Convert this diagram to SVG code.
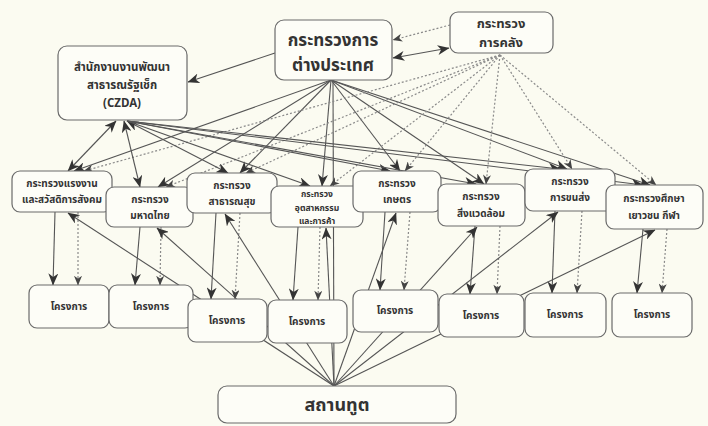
<svg xmlns="http://www.w3.org/2000/svg" width="708" height="426" viewBox="0 0 708 426">
<style>
.bg{fill:#fbfbf1}
.box{fill:#fdfdf7;stroke:#6a6a6a;stroke-width:1.2}
.t{font-family:"Noto Sans Thai","Noto Sans","DejaVu Sans",sans-serif;fill:#333;text-anchor:middle;font-weight:bold}
.s{stroke:#555;stroke-width:1.1;fill:none}
.d{stroke:#8a8a8a;stroke-width:1.2;stroke-dasharray:2 2;fill:none}
.a{marker-end:url(#ah)}
.ad{marker-end:url(#ahd)}
.bi{marker-start:url(#ah);marker-end:url(#ah)}
</style>
<defs>
<marker id="ah" viewBox="0 0 12 10" refX="11.5" refY="5" markerWidth="12" markerHeight="10" markerUnits="userSpaceOnUse" orient="auto-start-reverse"><path d="M0,0 L12,5 L0,10 L3.5,5 z" fill="#333"/></marker>
<marker id="ahd" viewBox="0 0 12 10" refX="11.5" refY="5" markerWidth="10" markerHeight="8" markerUnits="userSpaceOnUse" orient="auto-start-reverse"><path d="M0,0 L12,5 L0,10 L3.5,5 z" fill="#444"/></marker>
</defs>
<rect class="bg" x="0" y="0" width="708" height="426"/>
<g id="connectors">
<line class="s" x1="333" y1="80" x2="334" y2="386"/>
<line class="d ad" x1="450" y1="25" x2="393" y2="40"/>
<line class="s bi" x1="393" y1="58" x2="449" y2="48"/>
<line class="s a" x1="275" y1="53" x2="188" y2="82"/>
<line class="s a" x1="331" y1="80" x2="74" y2="171"/>
<line class="s a" x1="331" y1="80" x2="158" y2="187"/>
<line class="s a" x1="331" y1="80" x2="240" y2="173"/>
<line class="s a" x1="331" y1="80" x2="322" y2="186"/>
<line class="s a" x1="331" y1="80" x2="400" y2="171"/>
<line class="s a" x1="331" y1="80" x2="484" y2="184"/>
<line class="s a" x1="331" y1="80" x2="567" y2="169"/>
<line class="s a" x1="331" y1="80" x2="650" y2="185"/>
<line class="d ad" x1="500" y1="55" x2="84" y2="171"/>
<line class="d ad" x1="500" y1="55" x2="166" y2="187"/>
<line class="d ad" x1="500" y1="55" x2="246" y2="173"/>
<line class="d ad" x1="500" y1="55" x2="330" y2="186"/>
<line class="d ad" x1="500" y1="55" x2="405" y2="171"/>
<line class="d ad" x1="500" y1="55" x2="486" y2="184"/>
<line class="d ad" x1="500" y1="55" x2="572" y2="169"/>
<line class="d ad" x1="500" y1="55" x2="656" y2="185"/>
<line class="s bi" x1="116" y1="121" x2="68" y2="171"/>
<line class="s bi" x1="124" y1="121" x2="140" y2="187"/>
<line class="s bi" x1="127" y1="121" x2="228" y2="173"/>
<line class="s a" x1="127" y1="121" x2="310" y2="186"/>
<line class="s a" x1="127" y1="121" x2="390" y2="171"/>
<line class="s a" x1="127" y1="121" x2="476" y2="184"/>
<line class="s a" x1="127" y1="121" x2="560" y2="169"/>
<line class="s a" x1="127" y1="121" x2="643" y2="185"/>
<line class="s a" x1="55" y1="212" x2="53" y2="285"/>
<line class="d ad" x1="78" y1="212" x2="78" y2="285"/>
<line class="s a" x1="140" y1="227" x2="135" y2="285"/>
<line class="d ad" x1="161" y1="227" x2="160" y2="285"/>
<line class="s a" x1="216" y1="213" x2="211" y2="299"/>
<line class="d ad" x1="240" y1="213" x2="235" y2="299"/>
<line class="s a" x1="298" y1="227" x2="293" y2="300"/>
<line class="d ad" x1="320" y1="227" x2="318" y2="300"/>
<line class="s a" x1="385" y1="212" x2="380" y2="290"/>
<line class="d ad" x1="410" y1="212" x2="404" y2="290"/>
<line class="s a" x1="475" y1="226" x2="470" y2="294"/>
<line class="d ad" x1="500" y1="226" x2="497" y2="294"/>
<line class="s a" x1="555" y1="211" x2="552" y2="293"/>
<line class="d ad" x1="582" y1="211" x2="577" y2="293"/>
<line class="s a" x1="643" y1="229" x2="637" y2="293"/>
<line class="d ad" x1="667" y1="229" x2="662" y2="293"/>
<line class="s a" x1="334" y1="386" x2="68" y2="213"/>
<line class="s a" x1="334" y1="386" x2="157" y2="228"/>
<line class="s a" x1="334" y1="386" x2="225" y2="214"/>
<line class="s a" x1="334" y1="386" x2="326" y2="228"/>
<line class="s a" x1="334" y1="386" x2="396" y2="213"/>
<line class="s a" x1="334" y1="386" x2="477" y2="227"/>
<line class="s a" x1="334" y1="386" x2="558" y2="212"/>
<line class="s a" x1="334" y1="386" x2="655" y2="230"/>
</g>
<g id="mfa"><rect class="box" x="275" y="20" width="117" height="60" rx="9"/><text class="t" x="333" y="46" font-size="17">กระทรวงการ</text><text class="t" x="333" y="71" font-size="17">ต่างประเทศ</text></g>
<g id="finance"><rect class="box" x="450" y="12" width="103" height="41" rx="8"/><text class="t" x="501" y="28" font-size="13">กระทรวง</text><text class="t" x="501" y="47" font-size="13">การคลัง</text></g>
<g id="czda"><rect class="box" x="58" y="46" width="129" height="74" rx="9"/><text class="t" x="122" y="71" font-size="11.5">สำนักงานงานพัฒนา</text><text class="t" x="122" y="89" font-size="11.5">สาธารณรัฐเช็ก</text><text class="t" x="122" y="107" font-size="11.5">(CZDA)</text></g>
<g id="m1"><rect class="box" x="12" y="171" width="100" height="41" rx="8"/><text class="t" x="62" y="187" font-size="10">กระทรวงแรงงาน</text><text class="t" x="62" y="203" font-size="10">และสวัสดิการสังคม</text></g>
<g id="m2"><rect class="box" x="106" y="187" width="87" height="40" rx="8"/><text class="t" x="150" y="203" font-size="10">กระทรวง</text><text class="t" x="150" y="219" font-size="10">มหาดไทย</text></g>
<g id="m3"><rect class="box" x="187" y="173" width="90" height="40" rx="8"/><text class="t" x="232" y="189" font-size="10">กระทรวง</text><text class="t" x="232" y="205" font-size="10">สาธารณสุข</text></g>
<g id="m4"><rect class="box" x="271" y="186" width="92" height="41" rx="8"/><text class="t" x="317" y="197" font-size="8.5">กระทรวง</text><text class="t" x="317" y="210.5" font-size="8.5">อุตสาหกรรม</text><text class="t" x="317" y="223.5" font-size="8.5">และการค้า</text></g>
<g id="m5"><rect class="box" x="353" y="171" width="88" height="41" rx="8"/><text class="t" x="397" y="187" font-size="10">กระทรวง</text><text class="t" x="397" y="203" font-size="10">เกษตร</text></g>
<g id="m6"><rect class="box" x="438" y="184" width="87" height="42" rx="8"/><text class="t" x="481" y="200" font-size="10">กระทรวง</text><text class="t" x="481" y="217" font-size="10">สิ่งแวดล้อม</text></g>
<g id="m7"><rect class="box" x="525" y="169" width="90" height="42" rx="8"/><text class="t" x="570" y="185" font-size="10">กระทรวง</text><text class="t" x="570" y="201" font-size="10">การขนส่ง</text></g>
<g id="m8"><rect class="box" x="606" y="185" width="97" height="44" rx="8"/><text class="t" x="654" y="202" font-size="10">กระทรวงศึกษา</text><text class="t" x="654" y="219" font-size="10">เยาวชน กีฬา</text></g>
<g id="p1"><rect class="box" x="29" y="285" width="80" height="43" rx="8"/><text class="t" x="69" y="310" font-size="10">โครงการ</text></g>
<g id="p2"><rect class="box" x="109" y="285" width="84" height="43" rx="8"/><text class="t" x="151" y="310" font-size="10">โครงการ</text></g>
<g id="p3"><rect class="box" x="188" y="299" width="79" height="43" rx="8"/><text class="t" x="227" y="324" font-size="10">โครงการ</text></g>
<g id="p4"><rect class="box" x="268" y="300" width="79" height="43" rx="8"/><text class="t" x="307" y="325" font-size="10">โครงการ</text></g>
<g id="p5"><rect class="box" x="353" y="290" width="85" height="42" rx="8"/><text class="t" x="395" y="314" font-size="10">โครงการ</text></g>
<g id="p6"><rect class="box" x="439" y="294" width="85" height="43" rx="8"/><text class="t" x="481" y="319" font-size="10">โครงการ</text></g>
<g id="p7"><rect class="box" x="525" y="293" width="81" height="44" rx="8"/><text class="t" x="565" y="318" font-size="10">โครงการ</text></g>
<g id="p8"><rect class="box" x="612" y="293" width="80" height="44" rx="8"/><text class="t" x="652" y="318" font-size="10">โครงการ</text></g>
<g id="embassy"><rect class="box" x="218" y="386" width="238" height="37" rx="9"/><text class="t" x="337" y="411" font-size="18">สถานทูต</text></g>
</svg>
